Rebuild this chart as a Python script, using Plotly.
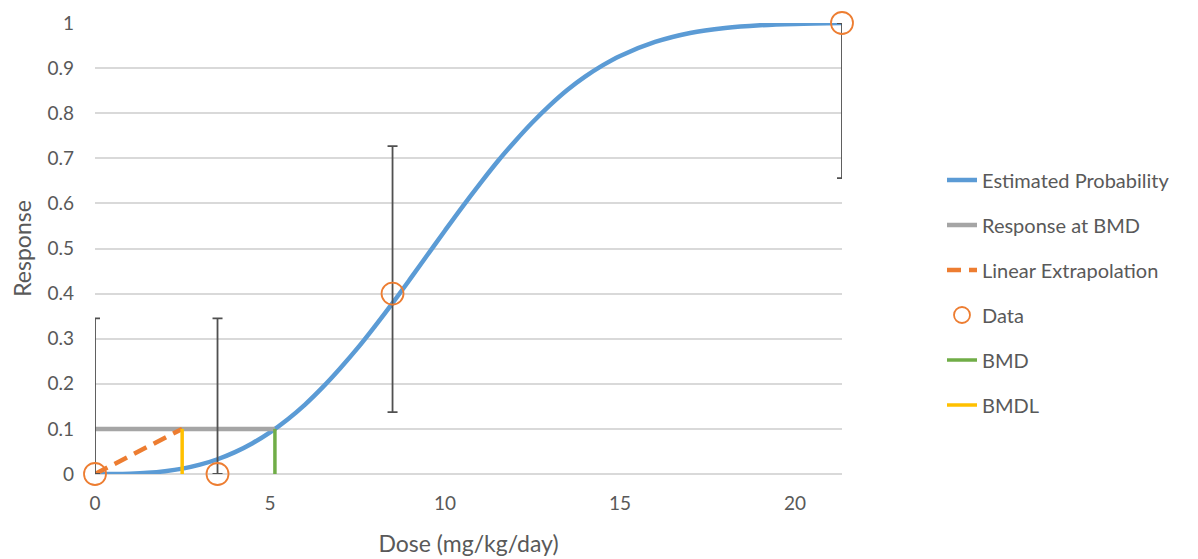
import plotly.graph_objects as go

# Estimated probability curve
curve_dose = [0, 0.5, 1, 1.5, 2, 2.5, 3, 3.5, 4, 4.5, 5, 5.5, 6, 6.5, 7, 7.5, 8, 8.5,
              9, 9.5, 10, 10.5, 11, 11.5, 12, 12.5, 13, 13.5, 14, 14.5, 15, 16, 17,
              18, 19, 20, 21.34]
curve_resp = [0, 0.0001, 0.0008, 0.0026, 0.0062, 0.012, 0.0207, 0.0327, 0.0485, 0.0683,
              0.0924, 0.121, 0.154, 0.192, 0.234, 0.279, 0.328, 0.379, 0.432, 0.486,
              0.540, 0.593, 0.644, 0.693, 0.738, 0.780, 0.818, 0.852, 0.881, 0.906,
              0.927, 0.958, 0.978, 0.989, 0.995, 0.998, 1.0]

# Observed data with confidence limits
data_dose = [0, 3.5, 8.5, 21.34]
data_resp = [0, 0, 0.4, 1.0]
data_upper = [0.345, 0.345, 0.727, 1.0]
data_lower = [0, 0, 0.137, 0.656]

bmr = 0.1
bmd = 5.14
bmdl = 2.49

x_ticks = [0, 5, 10, 15, 20]
y_ticks = [0, 0.1, 0.2, 0.3, 0.4, 0.5, 0.6, 0.7, 0.8, 0.9, 1]
y_ticktext = ["0", "0.1", "0.2", "0.3", "0.4", "0.5", "0.6", "0.7", "0.8", "0.9", "1"]

font_family = "Lato, 'Open Sans', sans-serif"
text_color = "#595959"

W, H = 1190, 551

fig = go.Figure()

fig.add_trace(go.Scatter(
    x=curve_dose, y=curve_resp, mode="lines", name="Estimated Probability",
    line=dict(color="#5B9BD5", width=4.5, shape="spline"), legendgroup="a",
))
fig.add_trace(go.Scatter(
    x=[0, bmd], y=[bmr, bmr], mode="lines", name="Response at BMD",
    line=dict(color="#A5A5A5", width=4.5), legendgroup="b",
))
fig.add_trace(go.Scatter(
    x=[0, bmdl], y=[0, bmr], mode="lines", name="Linear Extrapolation",
    line=dict(color="#ED7D31", width=4.5, dash="14px,8px"), legendgroup="c",
))
fig.add_trace(go.Scatter(
    x=data_dose, y=data_resp, mode="markers", name="Data",
    marker=dict(symbol="circle-open", size=22, color="#ED7D31", line=dict(width=1.8)),
    error_y=dict(type="data", symmetric=False,
                 array=[u - r for u, r in zip(data_upper, data_resp)],
                 arrayminus=[r - l for r, l in zip(data_resp, data_lower)],
                 color="#505050", thickness=1.8, width=5),
    cliponaxis=False, legendgroup="d",
))
fig.add_trace(go.Scatter(
    x=[bmd, bmd], y=[0, bmr], mode="lines", name="BMD",
    line=dict(color="#70AD47", width=3.5), legendgroup="e",
))
fig.add_trace(go.Scatter(
    x=[bmdl, bmdl], y=[0, bmr], mode="lines", name="BMDL",
    line=dict(color="#FFC000", width=3.5), legendgroup="f",
))

fig.update_layout(
    width=W, height=H,
    margin=dict(l=87, r=356, t=15, b=85),
    paper_bgcolor="white", plot_bgcolor="white",
    font=dict(family=font_family, size=19, color=text_color),
    showlegend=True,
    legend=dict(
        x=934 / W, xref="container", y=1 - 284.5 / H, yref="container",
        xanchor="left", yanchor="middle",
        font=dict(size=20, color=text_color),
        tracegroupgap=16, traceorder="grouped",
        bgcolor="rgba(0,0,0,0)",
    ),
    xaxis=dict(
        range=[0, 21.34], tickvals=x_ticks, showgrid=False, automargin=False,
        zeroline=False, showline=False, ticks="", ticklabelstandoff=16,
        title=dict(text="Dose (mg/kg/day)", font=dict(size=23), standoff=22),
        tickfont=dict(size=19),
    ),
    yaxis=dict(
        range=[0, 1], tickvals=y_ticks, ticktext=y_ticktext, automargin=False,
        showgrid=True, gridcolor="#D9D9D9", gridwidth=1.5,
        zeroline=True, zerolinecolor="#D9D9D9", zerolinewidth=1.5,
        showline=False, ticks="", ticklabelstandoff=20,
        title=dict(text="Response", font=dict(size=23), standoff=10),
        tickfont=dict(size=19),
    ),
)

fig.write_html("out.html")
